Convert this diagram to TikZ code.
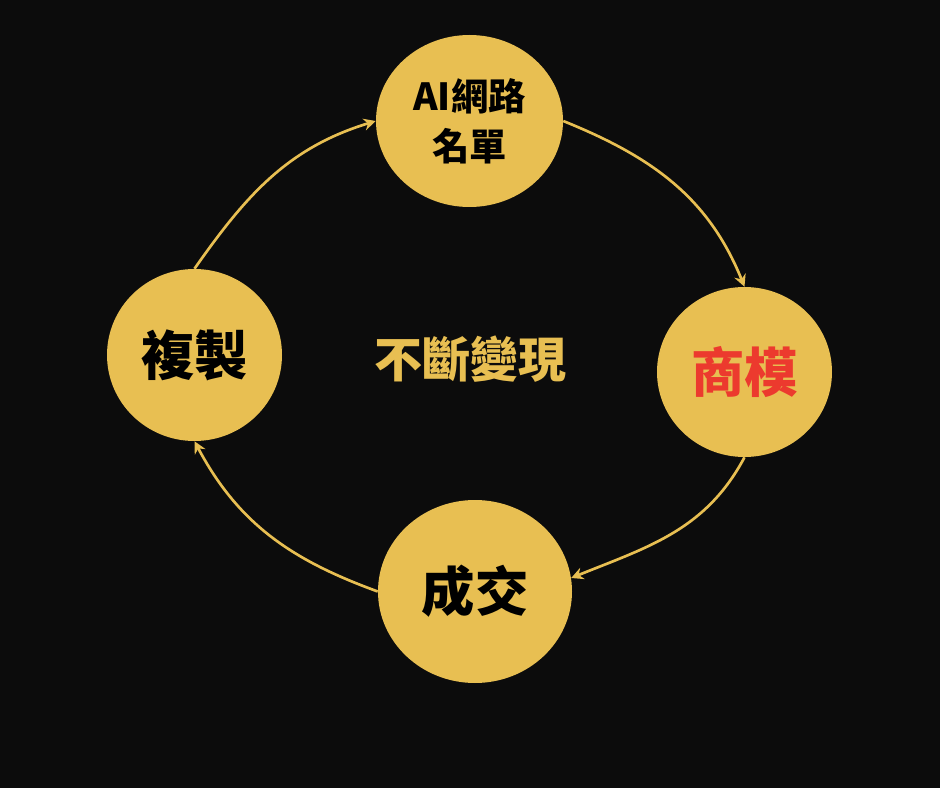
\documentclass[tikz,border=0pt]{standalone}
\usepackage{fontspec}
\newfontfamily\cjk{Noto Sans CJK TC}
\usetikzlibrary{arrows.meta,shapes.geometric}
\definecolor{bg}{HTML}{0C0C0C}
\definecolor{gold}{HTML}{E8BF52}
\definecolor{redt}{HTML}{EC3A2E}
\begin{document}
\begin{tikzpicture}[x=0.75pt,y=-0.75pt,
  bubble/.style={ellipse, fill=gold, inner sep=0pt, text=black, align=center},
  bigtxt/.style={font=\cjk\bfseries\fontsize{40pt}{44pt}\selectfont},
  smalltxt/.style={font=\cjk\bfseries\fontsize{28pt}{37.5pt}\selectfont},
  cycarrow/.style={draw=gold, line width=2pt, -{Stealth[length=9pt,width=9pt]}}
]
\fill[bg] (0,0) rectangle (940,788);
\useasboundingbox (0,0) rectangle (940,788);

\node[bubble, smalltxt, minimum width=140.25pt, minimum height=129pt] (T) at (469.5,121) {\raisebox{-3pt}{AI網路}\\\raisebox{-3pt}{名單}};
\node[bubble, bigtxt, minimum width=131.25pt, minimum height=129pt] (L) at (194.5,355) {\raisebox{-1.5pt}{複製}};
\node[bubble, bigtxt, text=redt, minimum width=131.25pt, minimum height=127.5pt] (R) at (744.5,372) {商模};
\node[bubble, bigtxt, minimum width=145.5pt, minimum height=137.25pt] (B) at (475,591.5) {\raisebox{-3.5pt}{成交}};

\node[font=\cjk\bfseries\fontsize{36pt}{40pt}\selectfont, text=gold] (C) at (470,359) {不斷變現};

\draw[cycarrow] (L.north) to[out=55,in=197] (T.west);
\draw[cycarrow] (T.east) to[out=-22,in=112] (R.north);
\draw[cycarrow] (R.south) to[out=-118,in=22] (B.8);
\draw[cycarrow] (B.west) to[out=160,in=-62] (L.south);
\end{tikzpicture}
\end{document}
